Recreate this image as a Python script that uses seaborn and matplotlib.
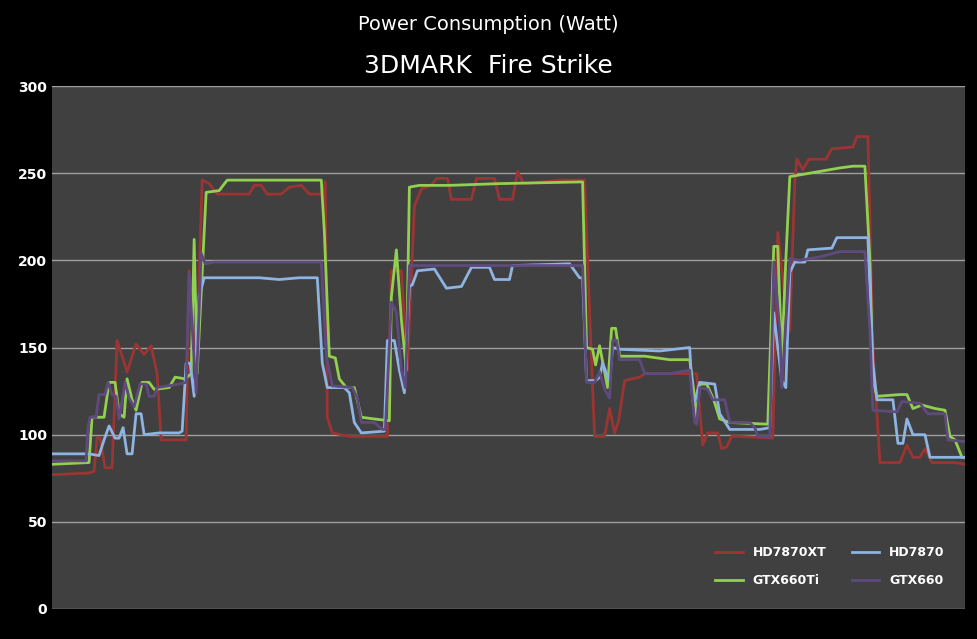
import matplotlib
matplotlib.use("Agg")
import matplotlib.pyplot as plt
import seaborn as sns
import pandas as pd

# (time sample, watts) per card
hd7870xt = [(0,77),(37,78),(42,79),(45,98),(48,98),(53,81),(60,81),(65,154),(75,136),(84,152),(92,146),(99,151),
            (105,135),(109,97),(134,97),(137,194),(144,137),(150,246),(157,244),(165,238),(197,238),(202,243),
            (209,243),(215,238),(229,238),(237,242),(249,243),(257,238),(269,238),(273,245),(275,110),(280,101),
            (297,99),(335,99),(339,194),(349,194),(355,137),(362,231),(369,241),(379,243),(384,247),(395,247),
            (399,235),(419,235),(424,247),(442,247),(447,235),(460,235),(465,251),(471,244),(507,246),(532,246),
            (537,170),(542,99),(552,99),(557,115),(562,101),(566,108),(572,131),(587,133),(592,135),(644,135),
            (650,94),(655,101),(665,101),(669,92),(674,93),(679,99),(687,99),(720,98),(725,216),(731,185),
            (734,158),(737,160),(742,245),(744,258),(750,252),(756,258),(773,258),(779,264),(800,265),(804,271),
            (815,271),(820,150),(827,84),(847,84),(854,94),(860,87),(867,87),(872,92),(879,84),(902,84),(912,83)]
gtx660ti = [(0,83),(37,84),(40,110),(52,110),(57,130),(63,130),(67,112),(72,110),(75,132),(80,120),(84,114),
            (90,130),(97,130),(102,126),(117,127),(123,133),(133,132),(139,135),(142,212),(145,135),(154,239),
            (167,240),(175,246),(269,246),(272,217),(277,145),(283,144),(287,132),(294,127),(302,127),(309,110),
            (322,109),(337,108),(339,179),(344,206),(349,166),(354,137),(357,242),(367,243),(397,243),(447,244),
            (530,245),(534,150),(540,149),(543,140),(547,151),(555,127),(559,161),(563,161),(567,145),(592,145),
            (617,143),(637,143),(640,130),(644,110),(647,129),(654,129),(661,120),(667,109),(677,107),(715,106),
            (721,208),(725,208),(729,143),(733,200),(737,248),(747,249),(767,251),(787,253),(800,254),(812,254),
            (817,200),(820,131),(824,122),(847,123),(854,123),(860,115),(869,117),(882,115),(892,114),(897,99),
            (902,97),(909,87),(912,87)]
hd7870 = [(0,89),(37,89),(47,88),(52,97),(57,105),(63,98),(67,98),(71,104),(75,89),(80,89),(84,112),(89,112),
          (92,100),(107,101),(127,101),(130,102),(134,141),(138,141),(142,122),(147,179),(152,190),(177,190),
          (207,190),(227,189),(247,190),(265,190),(270,141),(275,127),(292,127),(297,124),(302,107),(309,101),
          (332,102),(335,154),(342,154),(347,137),(352,124),(357,185),(360,186),(365,194),(382,195),(394,184),
          (409,185),(419,196),(437,196),(442,189),(457,189),(460,197),(517,198),(527,190),(530,190),(534,131),
          (543,131),(547,133),(550,141),(554,135),(557,131),(560,150),(567,149),(607,148),(637,150),(640,119),
          (642,119),(647,130),(662,129),(667,112),(677,103),(707,103),(717,104),(721,170),(725,150),(729,131),
          (733,127),(737,193),(742,199),(752,199),(755,206),(779,207),(784,213),(815,213),(820,141),(824,120),
          (840,120),(845,95),(850,95),(854,109),(860,100),(872,100),(877,87),(912,87)]
gtx660 = [(0,85),(34,85),(36,104),(38,110),(44,110),(47,123),(53,123),(56,130),(60,123),(64,122),(67,109),
          (73,130),(77,121),(82,116),(88,129),(94,129),(97,122),(102,122),(105,127),(127,129),(134,130),(137,193),
          (140,162),(144,124),(149,204),(153,198),(162,199),(269,199),(274,145),(280,128),(300,127),(305,121),
          (309,107),(322,107),(330,103),(333,103),(339,176),(344,170),(349,137),(353,127),(357,197),(530,197),
          (534,130),(542,130),(547,136),(552,126),(557,121),(560,154),(564,154),(567,143),(587,143),(592,135),
          (617,135),(637,137),(642,107),(644,106),(647,127),(655,126),(660,120),(672,120),(677,107),(697,107),
          (702,104),(705,99),(717,99),(721,199),(727,160),(729,127),(737,201),(747,200),(767,202),(787,205),
          (812,205),(817,160),(820,114),(844,113),(849,119),(867,118),(875,112),(892,112),(895,97),(912,96)]

series = {"HD7870XT": hd7870xt, "GTX660Ti": gtx660ti, "HD7870": hd7870, "GTX660": gtx660}
df = pd.concat([pd.DataFrame(pts, columns=["t", "W"]).assign(card=name) for name, pts in series.items()])
palette = {"HD7870XT": "#9B3533", "GTX660Ti": "#92D050", "HD7870": "#8DB4E2", "GTX660": "#5F4A7E"}

fig = plt.figure(figsize=(9.77, 6.39), dpi=100, facecolor="black")
ax = fig.add_axes([52/977, 30/639, 913/977, 523/639])
ax.set_facecolor("#404040")
sns.lineplot(data=df, x="t", y="W", hue="card", palette=palette, estimator=None,
             sort=False, linewidth=2, ax=ax)
ax.set_xlim(0, 912)
ax.set_ylim(0, 300)
ax.set_yticks(range(0, 301, 50))
ax.set_xticks([])
ax.grid(axis="y", color="#A0A0A0", linewidth=1)
ax.set_axisbelow(True)
ax.tick_params(axis="y", colors="white", length=0, labelsize=10)
for lab in ax.get_yticklabels():
    lab.set_fontweight("bold")
for s in ax.spines.values():
    s.set_visible(False)
ax.set_xlabel("")
ax.set_ylabel("")
ax.legend(loc="lower right", bbox_to_anchor=(0.99, 0.02), ncol=2, frameon=False,
          labelcolor="white", prop={"weight": "bold", "size": 9}, handlelength=2.2,
          columnspacing=2.0, labelspacing=1.2)
fig.text(0.5, 0.962, "Power Consumption (Watt)", ha="center", va="center", color="white", fontsize=14)
fig.text(0.5, 0.897, "3DMARK  Fire Strike", ha="center", va="center", color="white", fontsize=18)
fig.savefig("out.png", dpi=100, facecolor="black")
